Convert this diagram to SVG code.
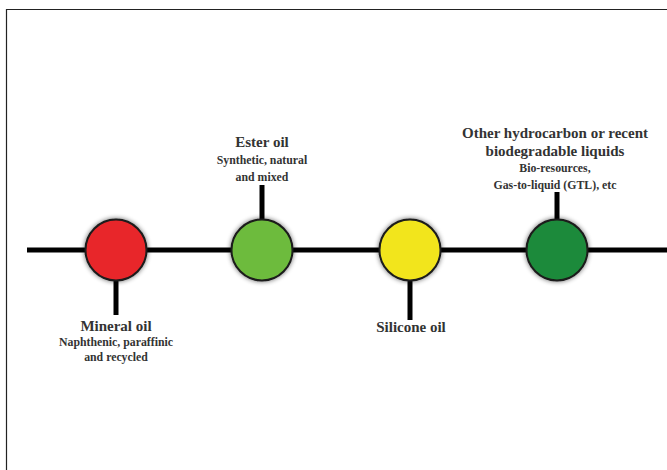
<svg xmlns="http://www.w3.org/2000/svg" width="667" height="470" viewBox="0 0 667 470">
<style>
.line{stroke:#000;stroke-width:5;fill:none}
.node circle{stroke:#1a1a1a;stroke-width:2;filter:url(#sh)}
.t{font-family:"Liberation Serif","DejaVu Serif",serif;font-weight:bold;fill:#333;text-anchor:middle}
.h{font-size:15px}
.s{font-size:11.8px}
</style>
<defs>
<filter id="sh" x="-30%" y="-30%" width="160%" height="160%">
<feGaussianBlur in="SourceAlpha" stdDeviation="2.5"/>
<feComponentTransfer><feFuncA type="linear" slope="0.6"/></feComponentTransfer>
<feMerge><feMergeNode/><feMergeNode in="SourceGraphic"/></feMerge>
</filter>
</defs>
<rect width="667" height="470" fill="#fff"/>
<path d="M6.5,470 V9.5 H667" stroke="#222" stroke-width="1.2" fill="none"/>
<g id="connectors">
<line class="line" x1="27" y1="250" x2="667" y2="250"/>
<line class="line" x1="116" y1="278" x2="116" y2="315"/>
<line class="line" x1="262" y1="185" x2="262" y2="222"/>
<line class="line" x1="410" y1="278" x2="410" y2="320"/>
<line class="line" x1="557" y1="192" x2="557" y2="222"/>
</g>
<g id="mineral" class="node">
<circle cx="116" cy="250" r="30.5" fill="#e8262a"/>
<text class="t h" x="116" y="331">Mineral oil</text>
<text class="t s" x="116" y="346">Naphthenic, paraffinic</text>
<text class="t s" x="116" y="361">and recycled</text>
</g>
<g id="ester" class="node">
<circle cx="262" cy="250" r="30.5" fill="#6dbb3c"/>
<text class="t h" x="262" y="147">Ester oil</text>
<text class="t s" x="262" y="164">Synthetic, natural</text>
<text class="t s" x="262" y="181">and mixed</text>
</g>
<g id="silicone" class="node">
<circle cx="410" cy="250" r="30.5" fill="#f2e51c"/>
<text class="t h" x="411" y="332">Silicone oil</text>
</g>
<g id="other" class="node">
<circle cx="557" cy="250" r="30.5" fill="#1d8a3a"/>
<text class="t h" x="555" y="138">Other hydrocarbon or recent</text>
<text class="t h" x="555" y="156">biodegradable liquids</text>
<text class="t s" x="555" y="172">Bio-resources,</text>
<text class="t s" x="555" y="189">Gas-to-liquid (GTL), etc</text>
</g>
</svg>
